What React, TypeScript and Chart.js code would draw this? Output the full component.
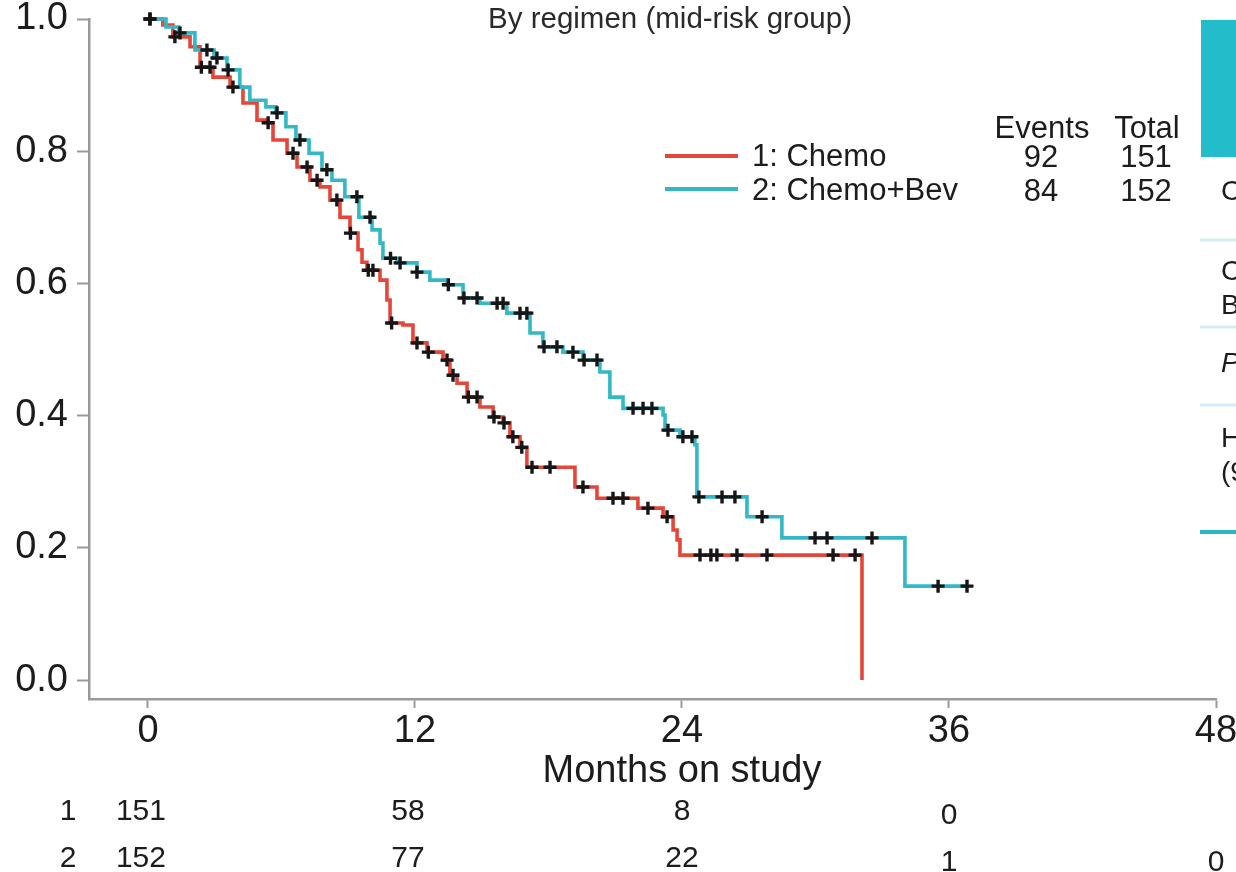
import React, { useEffect, useRef } from 'react';
import { Chart, registerables } from 'chart.js';

Chart.register(...registerables);

const FONT = '"Liberation Sans", Arial, Helvetica, sans-serif';
const RED = '#e4473a';
const TEAL = '#33b8c8';
const INK = '#1c1c1c';
const AXIS = '#9a9a9a';

const titleText = 'By regimen (mid-risk group)';
const xTitle = 'Months on study';
const xTicks = [0, 12, 24, 36, 48];
const yTicks = [0, 0.2, 0.4, 0.6, 0.8, 1.0];
const groupLabels = ['1: Chemo', '2: Chemo+Bev'];
const groupEvents = [92, 84];
const groupTotals = [151, 152];
const riskTimes = [0, 12, 24, 36, 48];
const riskChemo = [151, 58, 8, 0];
const riskChemoBev = [152, 77, 22, 1, 0];

// Kaplan-Meier steps: time (months) and survival after the drop
const chemoTimes = [0, 0.67, 1.12, 1.89, 2.34, 2.92, 3.69, 4.27, 4.9, 5.35, 5.62, 6.25, 6.7, 7.28, 7.73, 8.18, 8.63, 9.08, 9.44, 9.62, 9.84, 10.43, 10.74, 10.88, 11.46, 11.91, 12.54, 13.26, 13.57, 13.89, 14.34, 14.92, 15.51, 15.96, 16.27, 16.72, 17.03, 19.19, 20.18, 22.02, 23.15, 23.6, 23.78, 23.91, 32.09];
const chemoSurv = [1, 0.991, 0.973, 0.958, 0.927, 0.912, 0.897, 0.873, 0.847, 0.843, 0.817, 0.797, 0.776, 0.756, 0.746, 0.726, 0.7, 0.676, 0.651, 0.632, 0.62, 0.605, 0.575, 0.54, 0.537, 0.51, 0.496, 0.484, 0.461, 0.449, 0.428, 0.413, 0.398, 0.389, 0.368, 0.352, 0.322, 0.292, 0.275, 0.26, 0.247, 0.227, 0.212, 0.189, 0.0];
const chemoCensor = [0.09, 1.21, 2.4, 2.79, 3.82, 5.4, 6.52, 7.15, 7.6, 8.49, 9.1, 9.9, 10.11, 10.95, 12.09, 12.6, 13.44, 13.71, 14.4, 14.79, 15.55, 16.0, 16.4, 16.8, 17.26, 18.07, 19.55, 20.9, 21.35, 22.47, 23.33, 24.81, 25.3, 25.57, 26.47, 27.82, 30.79, 31.78];

const bevTimes = [0, 0.81, 1.39, 2.11, 2.97, 3.55, 4.13, 4.58, 5.3, 5.75, 6.2, 6.65, 7.24, 7.82, 8.27, 8.85, 9.48, 10.07, 10.43, 10.56, 11.19, 12.09, 12.67, 13.44, 14.16, 14.92, 16.13, 17.17, 17.75, 18.65, 19.55, 20.31, 20.76, 21.35, 23.15, 23.24, 23.91, 24.58, 24.67, 26.92, 28.49, 34.02, 36.85];
const bevSurv = [1, 0.988, 0.979, 0.953, 0.941, 0.923, 0.897, 0.877, 0.867, 0.858, 0.837, 0.817, 0.797, 0.772, 0.756, 0.731, 0.7, 0.681, 0.661, 0.638, 0.631, 0.617, 0.605, 0.598, 0.578, 0.57, 0.555, 0.525, 0.504, 0.496, 0.484, 0.466, 0.428, 0.411, 0.401, 0.378, 0.368, 0.356, 0.277, 0.247, 0.215, 0.142, 0.142];
const bevCensor = [0.09, 1.44, 2.65, 3.1, 3.6, 5.8, 6.83, 8.04, 9.39, 9.98, 10.9, 11.33, 12.09, 13.5, 14.2, 14.79, 15.69, 15.96, 16.72, 17.03, 17.8, 18.38, 19.1, 19.6, 20.18, 21.8, 22.25, 22.65, 23.37, 24.04, 24.45, 24.76, 25.8, 26.38, 27.6, 29.98, 30.52, 32.54, 35.51, 36.81];

function survAt(times: number[], surv: number[], t: number): number {
  let s = surv[0];
  for (let i = 0; i < times.length; i++) {
    if (times[i] <= t) s = surv[i];
  }
  return s;
}

const overlayPlugin = {
  id: 'kmOverlay',
  afterDraw(chart: any) {
    const ctx = chart.ctx as CanvasRenderingContext2D;
    const xs = chart.scales.x;
    ctx.save();
    ctx.fillStyle = INK;

    // title
    ctx.font = `29.5px ${FONT}`;
    ctx.textAlign = 'center';
    ctx.textBaseline = 'alphabetic';
    ctx.fillStyle = '#2a2a2a';
    ctx.fillText(titleText, 670, 28);

    // x axis title
    ctx.fillStyle = INK;
    ctx.font = `38px ${FONT}`;
    ctx.fillText(xTitle, xs.getPixelForValue(24), 782);

    // legend
    const legendColors = [RED, TEAL];
    const legendLineY = [156, 189];
    const legendBase = [166, 200];
    ctx.font = `31px ${FONT}`;
    for (let i = 0; i < groupLabels.length; i++) {
      ctx.strokeStyle = legendColors[i];
      ctx.lineWidth = 4;
      ctx.beginPath();
      ctx.moveTo(665, legendLineY[i]);
      ctx.lineTo(738, legendLineY[i]);
      ctx.stroke();
      ctx.textAlign = 'left';
      ctx.fillText(groupLabels[i], 752, legendBase[i]);
      ctx.textAlign = 'center';
      ctx.fillText(String(groupEvents[i]), 1041, legendBase[i] + 1);
      ctx.fillText(String(groupTotals[i]), 1146, legendBase[i] + 1);
    }
    ctx.fillText('Events', 1042, 138);
    ctx.fillText('Total', 1147, 138);

    // numbers at risk
    ctx.font = `30px ${FONT}`;
    ctx.textAlign = 'center';
    ctx.fillText('1', 68, 820);
    ctx.fillText('2', 68, 867);
    riskChemo.forEach((v, i) => {
      const t = riskTimes[i];
      ctx.fillText(String(v), xs.getPixelForValue(t) - (t < 24 ? 7 : 0), 820 + (t >= 36 ? 4 : 0));
    });
    riskChemoBev.forEach((v, i) => {
      const t = riskTimes[i];
      ctx.fillText(String(v), xs.getPixelForValue(t) - (t < 24 ? 7 : 0), 867 + (t >= 36 ? 4 : 0));
    });

    // partial side panel at right edge
    ctx.fillStyle = '#22bccb';
    ctx.fillRect(1201, 20, 40, 137);
    ctx.strokeStyle = '#d3edf2';
    ctx.lineWidth = 3;
    [240, 327, 405].forEach((y) => {
      ctx.beginPath();
      ctx.moveTo(1200, y);
      ctx.lineTo(1236, y);
      ctx.stroke();
    });
    ctx.strokeStyle = '#2ab5c6';
    ctx.lineWidth = 4;
    ctx.beginPath();
    ctx.moveTo(1200, 532);
    ctx.lineTo(1236, 532);
    ctx.stroke();
    ctx.fillStyle = INK;
    ctx.textAlign = 'left';
    ctx.font = `28px ${FONT}`;
    ctx.fillText('C', 1221, 200);
    ctx.fillText('C', 1221, 280);
    ctx.fillText('B', 1221, 314);
    ctx.fillText('H', 1221, 447);
    ctx.fillText('(9', 1221, 481);
    ctx.font = `italic 28px ${FONT}`;
    ctx.fillText('P', 1221, 372);
    ctx.restore();
  },
};

export default function App() {
  const ref = useRef<HTMLCanvasElement | null>(null);

  useEffect(() => {
    document.body.style.margin = '0';
    const canvas = ref.current;
    if (!canvas) return;

    const stepData = (times: number[], surv: number[]) => times.map((t, i) => ({ x: t, y: surv[i] }));
    const censorData = (cens: number[], times: number[], surv: number[]) =>
      cens.map((t) => ({ x: t, y: survAt(times, surv, t) }));

    const censorStyle = {
      showLine: false,
      pointStyle: 'cross',
      pointRadius: 6.5,
      pointBorderWidth: 3.4,
      pointBorderColor: '#161616',
      pointBackgroundColor: '#161616',
      order: 0,
      clip: false,
    };

    const chart = new Chart(canvas, {
      type: 'line',
      data: {
        datasets: [
          { label: 'censor-bev', data: censorData(bevCensor, bevTimes, bevSurv), ...censorStyle } as any,
          { label: 'censor-chemo', data: censorData(chemoCensor, chemoTimes, chemoSurv), ...censorStyle } as any,
          {
            label: groupLabels[1],
            data: stepData(bevTimes, bevSurv),
            stepped: 'before',
            borderColor: TEAL,
            borderWidth: 3.6,
            pointRadius: 0,
            fill: false,
            order: 1,
            clip: false,
          } as any,
          {
            label: groupLabels[0],
            data: stepData(chemoTimes, chemoSurv),
            stepped: 'before',
            borderColor: RED,
            borderWidth: 3.6,
            pointRadius: 0,
            fill: false,
            order: 2,
            clip: false,
          } as any,
        ],
      },
      options: {
        responsive: false,
        animation: false,
        devicePixelRatio: 1,
        layout: { padding: { top: 19, right: 20, left: 0, bottom: 0 } },
        plugins: {
          legend: { display: false },
          title: { display: false },
          tooltip: { enabled: false },
        },
        scales: {
          x: {
            type: 'linear',
            min: -2.65,
            max: 48,
            afterBuildTicks: (scale: any) => {
              scale.ticks = xTicks.map((v) => ({ value: v }));
            },
            afterFit: (scale: any) => {
              scale.height = 173;
              scale.paddingLeft = 0;
              scale.paddingRight = 0;
            },
            border: { display: true, color: AXIS, width: 2.5 },
            grid: { display: true, drawOnChartArea: false, drawTicks: true, tickLength: 9, tickColor: AXIS, tickWidth: 2 },
            ticks: {
              autoSkip: false,
              maxRotation: 0,
              padding: 1,
              color: INK,
              font: { family: FONT, size: 38 },
              callback: (v: any) => String(v),
            },
          },
          y: {
            type: 'linear',
            min: -0.0287,
            max: 1.0,
            afterBuildTicks: (scale: any) => {
              scale.ticks = yTicks.map((v) => ({ value: v }));
            },
            afterFit: (scale: any) => {
              scale.width = 89;
              scale.paddingTop = 0;
              scale.paddingBottom = 0;
            },
            border: { display: true, color: AXIS, width: 2.5 },
            grid: { display: true, drawOnChartArea: false, drawTicks: true, tickLength: 12, tickColor: AXIS, tickWidth: 2 },
            ticks: {
              padding: 9,
              color: INK,
              font: { family: FONT, size: 38 },
              callback: (v: any) => Number(v).toFixed(1),
            },
          },
        },
      },
      plugins: [overlayPlugin],
    });

    return () => {
      chart.destroy();
    };
  }, []);

  return (
    <div style={{ width: 1236, height: 872, position: 'relative', background: '#ffffff' }}>
      <canvas ref={ref} width={1236} height={872} style={{ display: 'block', width: 1236, height: 872 }} />
    </div>
  );
}
